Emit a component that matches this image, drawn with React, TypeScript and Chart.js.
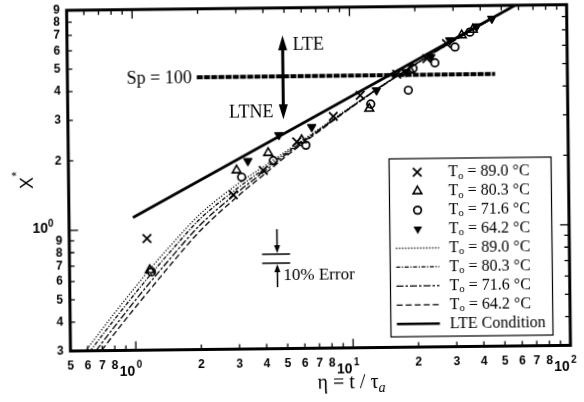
import React, { useEffect, useRef } from "react";
import { Chart, registerables } from "chart.js";

Chart.register(...registerables);

// ---------------- data ----------------
// model curves: eta values shared by the four curves
const modelEta = [0.55, 0.6, 0.7, 0.8, 1.0, 1.2, 1.5, 2, 3, 4, 5, 7, 10, 14, 18, 25, 35, 45, 55];
const model890 = [0.277, 0.308, 0.371, 0.435, 0.563, 0.691, 0.872, 1.156, 1.558, 1.862, 2.142, 2.641, 3.317, 4.1, 4.76, 5.77, 6.92, 7.9, 8.78];
const model803 = [0.261, 0.29, 0.349, 0.409, 0.53, 0.65, 0.824, 1.102, 1.499, 1.813, 2.107, 2.62, 3.3, 4.09, 4.75, 5.75, 6.9, 7.88, 8.75];
const model716 = [0.243, 0.27, 0.325, 0.381, 0.494, 0.606, 0.772, 1.038, 1.438, 1.767, 2.075, 2.602, 3.297, 4.08, 4.74, 5.74, 6.89, 7.87, 8.74];
const model642 = [0.227, 0.252, 0.303, 0.356, 0.461, 0.565, 0.724, 0.979, 1.382, 1.718, 2.038, 2.579, 3.284, 4.078, 4.736, 5.73, 6.88, 7.86, 8.72];

// experimental points
const exp890Eta = [1.14, 2.86, 3.94, 5.64, 8.33, 11.1, 16.4, 22.6, 27.9];
const exp890X = [0.915, 1.4, 1.78, 2.36, 3.03, 3.73, 4.58, 5.34, 6.19];
const exp803Eta = [1.17, 2.97, 4.16, 5.94, 12.2, 18.9, 32.8, 36.9];
const exp803X = [0.667, 1.79, 2.12, 2.4, 3.26, 4.76, 6.71, 7.09];
const exp716Eta = [1.19, 3.13, 4.39, 6.21, 12.4, 18.5, 19.5, 24.6, 30.5, 35.8];
const exp716X = [0.656, 1.67, 1.96, 2.28, 3.41, 3.9, 4.85, 5.11, 5.97, 6.92];
const exp642Eta = [3.35, 4.67, 6.62, 13.2, 18.1, 23.6, 28.9, 38.5, 45.2];
const exp642X = [1.96, 2.53, 2.73, 3.91, 4.68, 5.42, 6.39, 7.32, 7.89];

// LTE condition line and Sp = 100 line
const lteEta = [0.985, 58];
const lteX = [1.13, 9.0];
const spEta = [1.97, 46.5];
const spX = [4.55, 4.55];

// tick labels
const xDigitValues = [0.5, 0.6, 0.7, 0.8, 2, 3, 4, 5, 6, 7, 8, 20, 30, 40, 50, 60, 70, 80];
const xDigitLabels = ["5", "6", "7", "8", "2", "3", "4", "5", "6", "7", "8", "2", "3", "4", "5", "6", "7", "8"];
const xDecadeValues = [1, 10, 100];
const xDecadeExps = ["0", "1", "2"];
const yDigitValues = [0.3, 0.4, 0.5, 0.6, 0.7, 0.8, 0.9, 2, 3, 4, 5, 6, 7, 8, 9];
const yDigitLabels = ["3", "4", "5", "6", "7", "8", "9", "2", "3", "4", "5", "6", "7", "8", "9"];
const yDecadeValues = [1];
const yDecadeExps = ["0"];

const legendTemps = ["89.0", "80.3", "71.6", "64.2"];

// ---------------- helpers ----------------
const pts = (xs: number[], ys: number[]) => xs.map((x, i) => ({ x, y: ys[i] }));

const SERIF = '"Liberation Serif", "Times New Roman", serif';
const SANS = '"Liberation Sans", Arial, sans-serif';

const DASH_890 = [1.2, 1.8];
const DASH_803 = [4, 1.6, 1.2, 1.6];
const DASH_716 = [7, 2, 2.5, 2];
const DASH_642 = [6, 3];

function drawMarker(ctx: CanvasRenderingContext2D, kind: string, x: number, y: number) {
  ctx.save();
  ctx.strokeStyle = "#000";
  ctx.fillStyle = "#000";
  if (kind === "x") {
    const r = 6 * Math.SQRT1_2;
    ctx.lineWidth = 1.8;
    ctx.beginPath();
    ctx.moveTo(x - r, y - r);
    ctx.lineTo(x + r, y + r);
    ctx.moveTo(x + r, y - r);
    ctx.lineTo(x - r, y + r);
    ctx.stroke();
  } else if (kind === "tri" || kind === "tridown") {
    const r = 5;
    const rot = kind === "tri" ? 0 : Math.PI;
    ctx.lineWidth = 1.6;
    ctx.beginPath();
    for (let k = 0; k < 3; k++) {
      const a = rot + (k * 2 * Math.PI) / 3;
      const px = x + Math.sin(a) * r;
      const py = y - Math.cos(a) * r;
      if (k === 0) ctx.moveTo(px, py);
      else ctx.lineTo(px, py);
    }
    ctx.closePath();
    if (kind === "tridown") ctx.fill();
    else ctx.stroke();
  } else if (kind === "circle") {
    ctx.lineWidth = 1.7;
    ctx.beginPath();
    ctx.arc(x, y, 3.8, 0, Math.PI * 2);
    ctx.stroke();
  }
  ctx.restore();
}

function arrowHead(ctx: CanvasRenderingContext2D, x: number, yTip: number, dir: number, len: number, half: number) {
  // dir = -1: points up, dir = +1: points down
  ctx.beginPath();
  ctx.moveTo(x, yTip);
  ctx.lineTo(x - half, yTip - dir * len);
  ctx.lineTo(x + half, yTip - dir * len);
  ctx.closePath();
  ctx.fill();
}

function drawTo(ctx: CanvasRenderingContext2D, x: number, y: number, rest: string, size: number) {
  ctx.textAlign = "left";
  ctx.textBaseline = "middle";
  ctx.font = `${size}px ${SERIF}`;
  ctx.fillText("T", x, y);
  const w1 = ctx.measureText("T").width;
  ctx.font = `${Math.round(size * 0.68)}px ${SERIF}`;
  ctx.fillText("o", x + w1, y + 4);
  const w2 = ctx.measureText("o").width;
  ctx.font = `${size}px ${SERIF}`;
  ctx.fillText(rest, x + w1 + w2, y);
}

const decorPlugin = {
  id: "decor",
  afterDatasetsDraw(chart: any) {
    const ctx: CanvasRenderingContext2D = chart.ctx;
    const xs = chart.scales.x;
    const ys = chart.scales.y;
    const X = (v: number) => xs.getPixelForValue(v);
    const Y = (v: number) => ys.getPixelForValue(v);
    ctx.save();
    ctx.fillStyle = "#000";
    ctx.strokeStyle = "#000";

    // Sp = 100 label
    ctx.font = `18px ${SERIF}`;
    ctx.textAlign = "right";
    ctx.textBaseline = "middle";
    ctx.fillText("Sp = 100", X(spEta[0]) - 5, Y(spX[0]) + 1);

    // vertical double arrow LTE / LTNE
    const ax = X(4.91);
    const aTop = Y(6.84);
    const aBot = Y(2.96);
    ctx.lineWidth = 3;
    ctx.beginPath();
    ctx.moveTo(ax, aTop + 10);
    ctx.lineTo(ax, aBot - 10);
    ctx.stroke();
    arrowHead(ctx, ax, aTop, -1, 15, 4.5);
    arrowHead(ctx, ax, aBot, 1, 15, 4.5);
    ctx.font = `18px ${SERIF}`;
    ctx.textAlign = "left";
    ctx.fillText("LTE", ax + 10, Y(6.19));
    ctx.textAlign = "right";
    ctx.fillText("LTNE", ax - 10, Y(3.18));

    // 10% error marker
    const e1 = Y(0.771);
    const e2 = Y(0.705);
    const ex = X(4.52);
    ctx.lineWidth = 1.5;
    ctx.beginPath();
    ctx.moveTo(X(3.85), e1);
    ctx.lineTo(X(5.18), e1);
    ctx.moveTo(X(3.85), e2);
    ctx.lineTo(X(5.18), e2);
    ctx.moveTo(ex, Y(0.99));
    ctx.lineTo(ex, e1 - 6);
    ctx.moveTo(ex, Y(0.555));
    ctx.lineTo(ex, e2 + 6);
    ctx.stroke();
    arrowHead(ctx, ex, e1 - 1, 1, 8, 3);
    arrowHead(ctx, ex, e2 + 1, -1, 8, 3);
    ctx.font = `17px ${SERIF}`;
    ctx.textAlign = "left";
    ctx.textBaseline = "middle";
    ctx.fillText("10% Error", ex + 6, Y(0.619));
    ctx.restore();
  },
  afterDraw(chart: any) {
    const ctx: CanvasRenderingContext2D = chart.ctx;
    const { left, right, top, bottom } = chart.chartArea;
    const xs = chart.scales.x;
    const ys = chart.scales.y;
    const X = (v: number) => xs.getPixelForValue(v);
    const Y = (v: number) => ys.getPixelForValue(v);
    ctx.save();
    ctx.fillStyle = "#000";
    ctx.strokeStyle = "#000";

    // frame
    ctx.lineWidth = 3;
    ctx.strokeRect(left, top, right - left, bottom - top);

    // inward ticks
    ctx.lineWidth = 1.3;
    ctx.beginPath();
    for (let d = -1; d <= 1; d++) {
      for (let m = 1; m <= 9; m++) {
        const v = m * Math.pow(10, d);
        if (v <= 0.5 || v >= 100) continue;
        const px = X(v);
        const len = m === 1 ? 9 : 5;
        ctx.moveTo(px, bottom);
        ctx.lineTo(px, bottom - len);
        ctx.moveTo(px, top);
        ctx.lineTo(px, top + len);
      }
    }
    for (let d = -1; d <= 0; d++) {
      for (let m = 1; m <= 9; m++) {
        const v = m * Math.pow(10, d);
        if (v <= 0.3 || v >= 9) continue;
        const py = Y(v);
        const len = m === 1 ? 9 : 5;
        ctx.moveTo(left, py);
        ctx.lineTo(left + len, py);
        ctx.moveTo(right, py);
        ctx.lineTo(right - len, py);
      }
    }
    ctx.stroke();

    // x tick labels
    ctx.font = `bold 12px ${SANS}`;
    ctx.textAlign = "center";
    ctx.textBaseline = "middle";
    xDigitValues.forEach((v, i) => ctx.fillText(xDigitLabels[i], X(v), bottom + 15));
    xDecadeValues.forEach((v, i) => {
      const px = X(v);
      ctx.font = `bold 14px ${SANS}`;
      ctx.textAlign = "right";
      ctx.fillText("10", px - 1, bottom + 21.5);
      ctx.font = `bold 10px ${SANS}`;
      ctx.textAlign = "left";
      ctx.fillText(xDecadeExps[i], px + 0.5, bottom + 14.5);
    });

    // y tick labels
    ctx.font = `bold 12px ${SANS}`;
    ctx.textAlign = "right";
    yDigitValues.forEach((v, i) => ctx.fillText(yDigitLabels[i], left - 7, Y(v)));
    yDecadeValues.forEach((v, i) => {
      const py = Y(v);
      ctx.font = `bold 14px ${SANS}`;
      ctx.textAlign = "right";
      ctx.fillText("10", left - 21, py - 2);
      ctx.font = `bold 10px ${SANS}`;
      ctx.textAlign = "left";
      ctx.fillText(yDecadeExps[i], left - 21, py - 7);
    });

    // axis titles
    ctx.textBaseline = "alphabetic";
    ctx.font = `20px ${SERIF}`;
    const main = "\u03b7 = t / \u03c4";
    const wMain = ctx.measureText(main).width;
    ctx.font = `italic 14px ${SERIF}`;
    const wSub = ctx.measureText("a").width;
    const tx = X(10) - 2 - (wMain + wSub) / 2;
    ctx.font = `20px ${SERIF}`;
    ctx.textAlign = "left";
    ctx.fillText(main, tx, 389);
    ctx.font = `italic 14px ${SERIF}`;
    ctx.fillText("a", tx + wMain, 393);

    ctx.save();
    ctx.translate(28.5, 180);
    ctx.rotate(-Math.PI / 2);
    ctx.font = `18px ${SANS}`;
    ctx.textAlign = "center";
    ctx.textBaseline = "middle";
    ctx.fillText("X", 0, 0);
    ctx.font = `13px ${SANS}`;
    ctx.fillText("*", 9, -11);
    ctx.restore();

    // legend box
    const bx = 389.5;
    const by = 160;
    const bw = 162;
    const bh = 178;
    ctx.fillStyle = "#fff";
    ctx.fillRect(bx, by, bw, bh);
    ctx.fillStyle = "#000";
    ctx.lineWidth = 1.2;
    ctx.strokeRect(bx, by, bw, bh);
    const rowY = (i: number) => 173.7 + 18.95 * i;
    const markerKinds = ["x", "tri", "circle", "tridown"];
    markerKinds.forEach((k, i) => {
      drawMarker(ctx, k, 417.5, rowY(i));
      drawTo(ctx, 448.5, rowY(i), ` = ${legendTemps[i]} \u00b0C`, 16);
    });
    const dashes = [DASH_890, DASH_803, DASH_716, DASH_642];
    dashes.forEach((d, i) => {
      const yy = rowY(i + 4);
      ctx.lineWidth = 1.3;
      ctx.setLineDash(d);
      ctx.beginPath();
      ctx.moveTo(395.5, yy);
      ctx.lineTo(438.5, yy);
      ctx.stroke();
      ctx.setLineDash([]);
      drawTo(ctx, 448.5, yy, ` = ${legendTemps[i]} \u00b0C`, 16);
    });
    const yl = rowY(8);
    ctx.lineWidth = 2.5;
    ctx.beginPath();
    ctx.moveTo(395.5, yl);
    ctx.lineTo(438.5, yl);
    ctx.stroke();
    ctx.font = `16px ${SERIF}`;
    ctx.textAlign = "left";
    ctx.textBaseline = "middle";
    ctx.fillText("LTE Condition", 448.5, yl);

    ctx.restore();
  },
};

export default function App() {
  const ref = useRef<HTMLCanvasElement | null>(null);

  useEffect(() => {
    if (!ref.current) return;
    const lineDs = (label: string, ys: number[], dash: number[]) => ({
      label,
      data: pts(modelEta, ys),
      showLine: true,
      borderColor: "#000",
      borderWidth: 1.3,
      borderDash: dash,
      pointRadius: 0,
      fill: false,
      cubicInterpolationMode: "monotone",
      order: 3,
    });
    const markerDs = (label: string, xs: number[], ys: number[], style: string, extra: any) => ({
      label,
      data: pts(xs, ys),
      showLine: false,
      pointStyle: style,
      pointBorderColor: "#000",
      order: 1,
      ...extra,
    });
    const chart = new Chart(ref.current, {
      type: "scatter",
      data: {
        datasets: [
          lineDs("Model 89.0", model890, DASH_890),
          lineDs("Model 80.3", model803, DASH_803),
          lineDs("Model 71.6", model716, DASH_716),
          lineDs("Model 64.2", model642, DASH_642),
          {
            label: "LTE Condition",
            data: pts(lteEta, lteX),
            showLine: true,
            borderColor: "#000",
            borderWidth: 2.8,
            pointRadius: 0,
            order: 2,
          },
          {
            label: "Sp = 100",
            data: pts(spEta, spX),
            showLine: true,
            borderColor: "#000",
            borderWidth: 4,
            borderDash: [6, 1.2],
            pointRadius: 0,
            order: 2,
          },
          markerDs("To = 89.0", exp890Eta, exp890X, "crossRot", { pointRadius: 6, pointBorderWidth: 1.8 }),
          markerDs("To = 80.3", exp803Eta, exp803X, "triangle", {
            pointRadius: 5,
            pointBorderWidth: 1.6,
            pointBackgroundColor: "rgba(0,0,0,0)",
          }),
          markerDs("To = 71.6", exp716Eta, exp716X, "circle", {
            pointRadius: 3.8,
            pointBorderWidth: 1.7,
            pointBackgroundColor: "rgba(0,0,0,0)",
          }),
          markerDs("To = 64.2", exp642Eta, exp642X, "triangle", {
            pointRadius: 5,
            pointRotation: 180,
            pointBorderWidth: 1,
            pointBackgroundColor: "#000",
          }),
        ] as any,
      },
      options: {
        animation: false,
        responsive: false,
        events: [],
        layout: { padding: { left: 68.8, right: 15.2, top: 7.5, bottom: 53.5 } },
        plugins: { legend: { display: false }, tooltip: { enabled: false } },
        scales: {
          x: { type: "logarithmic", min: 0.5, max: 100, display: false },
          y: { type: "logarithmic", min: 0.3, max: 9, display: false },
        },
      } as any,
      plugins: [decorPlugin as any],
    });
    return () => chart.destroy();
  }, []);

  return (
    <div
      style={{
        position: "fixed",
        left: 0,
        top: 0,
        width: 584,
        height: 402,
        transform: "rotate(-0.65deg)",
        transformOrigin: "292px 201px",
      }}
    >
      <canvas ref={ref} width={584} height={402} style={{ width: 584, height: 402, display: "block" }} />
    </div>
  );
}
